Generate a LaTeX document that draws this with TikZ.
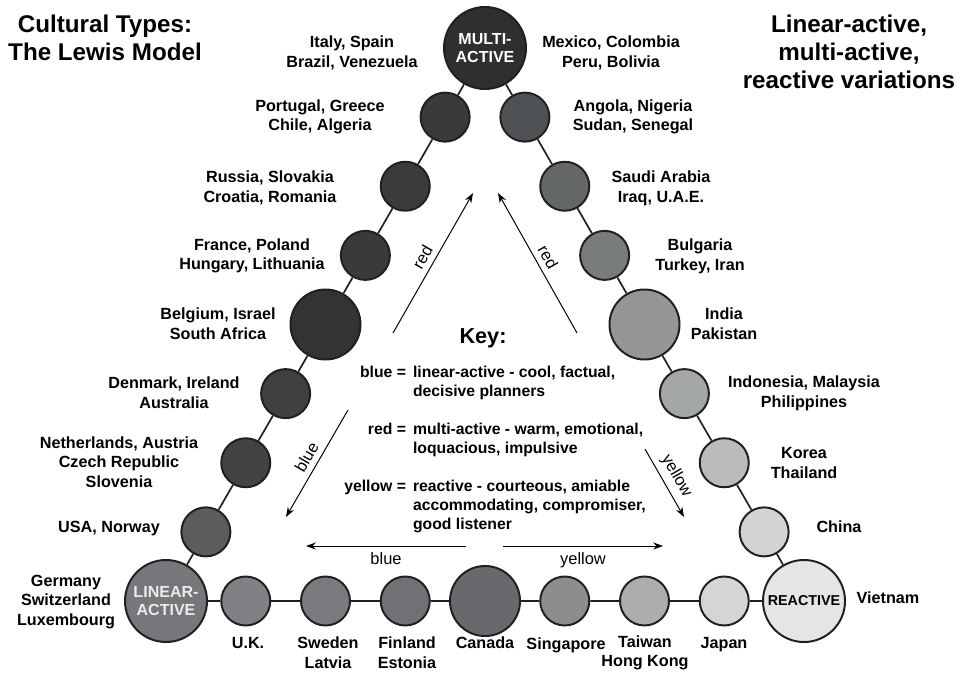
\documentclass[tikz,border=0pt]{standalone}
\usepackage{fontspec}
\setmainfont{Liberation Sans}
\usepackage{tikz}
\usetikzlibrary{shapes,arrows.meta,positioning,calc}

\definecolor{rim}{HTML}{231F20}
\definecolor{cMA}{HTML}{2F2F2F}
\definecolor{cPT}{HTML}{3A3A3A}
\definecolor{cRU}{HTML}{3B3B3B}
\definecolor{cFR}{HTML}{3A3A3A}
\definecolor{cBE}{HTML}{333333}
\definecolor{cDK}{HTML}{3F4042}
\definecolor{cNL}{HTML}{424345}
\definecolor{cUS}{HTML}{5B5C5E}
\definecolor{cLA}{HTML}{76777A}
\definecolor{cUK}{HTML}{808184}
\definecolor{cSE}{HTML}{7A7B7E}
\definecolor{cFI}{HTML}{707174}
\definecolor{cCA}{HTML}{68696C}
\definecolor{cSG}{HTML}{8C8D8F}
\definecolor{cTW}{HTML}{ACADAF}
\definecolor{cJP}{HTML}{D4D5D6}
\definecolor{cRE}{HTML}{E4E5E6}
\definecolor{cCN}{HTML}{D2D3D3}
\definecolor{cKR}{HTML}{BABCBC}
\definecolor{cID}{HTML}{A4A7A7}
\definecolor{cIN}{HTML}{959697}
\definecolor{cBG}{HTML}{797C7D}
\definecolor{cSA}{HTML}{646768}
\definecolor{cAO}{HTML}{4F5254}

\begin{document}
\begin{tikzpicture}[
    x=0.025cm, y=-0.025cm,
    dot/.style={circle, draw=rim, line width=1.4pt, minimum size=1.225cm, inner sep=0pt},
    bigdot/.style={dot, minimum size=1.75cm},
    pole/.style={dot, minimum size=2.05cm, align=center, font=\fontsize{11.4}{12.8}\selectfont\bfseries},
    place/.style={align=center, inner sep=0pt, font=\fontsize{11.5}{14}\selectfont\bfseries},
    heading/.style={align=center, inner sep=0pt, font=\fontsize{17.2}{19.9}\selectfont\bfseries},
    link/.style={draw=rim, line width=1.2pt},
    arrow/.style={-{Stealth[length=7pt, width=5pt]}, line width=0.7pt},
    tag/.style={sloped, inner sep=4pt, font=\fontsize{11.7}{14}\selectfont}
]
    \useasboundingbox (0,0) rectangle (964,674);

    % corners of the triangle
    \node[pole, fill=cMA, text=white] (ma) at (485,48) {MULTI-\\ACTIVE};
    \node[pole, fill=cLA, text=white!92!black] (la) at (166,601) {LINEAR-\\ACTIVE};
    \node[pole, fill=cRE, font=\fontsize{10.2}{12}\selectfont\bfseries] (re) at (804,601) {REACTIVE};

    % linear-active to multi-active
    \node[dot, fill=cUS] (us) at ($(la)!1/8!(ma)$) {};
    \node[dot, fill=cNL] (nl) at ($(la)!2/8!(ma)$) {};
    \node[dot, fill=cDK] (dk) at ($(la)!3/8!(ma)$) {};
    \node[bigdot, fill=cBE] (be) at ($(la)!4/8!(ma)$) {};
    \node[dot, fill=cFR] (fr) at ($(la)!5/8!(ma)$) {};
    \node[dot, fill=cRU] (ru) at ($(la)!6/8!(ma)$) {};
    \node[dot, fill=cPT] (pt) at ($(la)!7/8!(ma)$) {};

    % multi-active to reactive
    \node[dot, fill=cAO] (ao) at ($(ma)!1/8!(re)$) {};
    \node[dot, fill=cSA] (sa) at ($(ma)!2/8!(re)$) {};
    \node[dot, fill=cBG] (bg) at ($(ma)!3/8!(re)$) {};
    \node[bigdot, fill=cIN] (in) at ($(ma)!4/8!(re)$) {};
    \node[dot, fill=cID] (id) at ($(ma)!5/8!(re)$) {};
    \node[dot, fill=cKR] (kr) at ($(ma)!6/8!(re)$) {};
    \node[dot, fill=cCN] (cn) at ($(ma)!7/8!(re)$) {};

    % linear-active to reactive
    \node[dot, fill=cUK] (uk) at ($(la)!1/8!(re)$) {};
    \node[dot, fill=cSE] (se) at ($(la)!2/8!(re)$) {};
    \node[dot, fill=cFI] (fi) at ($(la)!3/8!(re)$) {};
    \node[bigdot, fill=cCA] (ca) at ($(la)!4/8!(re)$) {};
    \node[dot, fill=cSG] (sg) at ($(la)!5/8!(re)$) {};
    \node[dot, fill=cTW] (tw) at ($(la)!6/8!(re)$) {};
    \node[dot, fill=cJP] (jp) at ($(la)!7/8!(re)$) {};

    \draw[link] (la) -- (us) -- (nl) -- (dk) -- (be) -- (fr) -- (ru) -- (pt) -- (ma);
    \draw[link] (ma) -- (ao) -- (sa) -- (bg) -- (in) -- (id) -- (kr) -- (cn) -- (re);
    \draw[link] (la) -- (uk) -- (se) -- (fi) -- (ca) -- (sg) -- (tw) -- (jp) -- (re);

    % country names
    \node[place] (italy) at (352,53) {Italy, Spain\\Brazil, Venezuela};
    \node[place] (mexico) at (611,53) {Mexico, Colombia\\Peru, Bolivia};
    \node[place] (portugal) at (320,117) {Portugal, Greece\\Chile, Algeria};
    \node[place] (angola) at (633,117) {Angola, Nigeria\\Sudan, Senegal};
    \node[place] (russia) at (270,188) {Russia, Slovakia\\Croatia, Romania};
    \node[place] (saudi) at (661,188) {Saudi Arabia\\Iraq, U.A.E.};
    \node[place] (france) at (252,256) {France, Poland\\Hungary, Lithuania};
    \node[place] (bulgaria) at (700,256) {Bulgaria\\Turkey, Iran};
    \node[place] (belgium) at (218,324) {Belgium, Israel\\South Africa};
    \node[place] (india) at (724,324) {India\\Pakistan};
    \node[place] (denmark) at (174,393) {Denmark, Ireland\\Australia};
    \node[place] (indonesia) at (804,393) {Indonesia, Malaysia\\Philippines};
    \node[place] (netherlands) at (119,462) {Netherlands, Austria\\Czech Republic\\Slovenia};
    \node[place] (korea) at (804,463) {Korea\\Thailand};
    \node[place] (usa) at (109,529) {USA, Norway};
    \node[place] (china) at (839,527) {China};
    \node[place] (germany) at (66,602) {Germany\\Switzerland\\Luxembourg};
    \node[place] (vietnam) at (888,598) {Vietnam};
    \node[place] (britain) at (248,643) {U.K.};
    \node[place] (sweden) at (328,653) {Sweden\\Latvia};
    \node[place] (finland) at (407,653) {Finland\\Estonia};
    \node[place] (canada) at (485,643) {Canada};
    \node[place] (singapore) at (566,645) {Singapore};
    \node[place] (taiwan) at (645,653) {Taiwan\\Hong Kong};
    \node[place] (japan) at (724,645) {Japan};

    % titles
    \node[heading] (title) at (105,38) {Cultural Types:\\The Lewis Model};
    \node[heading] (subtitle) at (849,52) {Linear-active,\\multi-active,\\reactive variations};

    % key
    \node[anchor=base, inner sep=0pt, font=\fontsize{15.4}{18}\selectfont\bfseries] (key) at (483,344) {Key:};
    \node[anchor=base west, inner sep=0pt, font=\fontsize{11.2}{13.5}\selectfont\bfseries] (legend) at (344,377.5)
        {\begin{tabular}[t]{@{}r@{\hspace{5pt}}l@{}}
         blue = & linear-active - cool, factual,\\
                & decisive planners\\[13.5pt]
         red = & multi-active - warm, emotional,\\
               & loquacious, impulsive\\[13.5pt]
         yellow = & reactive - courteous, amiable\\
                  & accommodating, compromiser,\\
                  & good listener
         \end{tabular}};

    % direction arrows
    \coordinate (redla) at (393,333);
    \coordinate (redlb) at (473,193);
    \coordinate (redra) at (577,333);
    \coordinate (redrb) at (498,193);
    \coordinate (bluea) at (348,410);
    \coordinate (blueb) at (286,517);
    \coordinate (yella) at (645,449);
    \coordinate (yellb) at (684,517);
    \coordinate (bluec) at (466,546);
    \coordinate (blued) at (306,546);
    \coordinate (yellc) at (503,546);
    \coordinate (yelld) at (663,546);

    \draw[arrow] (redla) -- node[tag, above] {red} (redlb);
    \draw[arrow] (redra) -- node[tag, above] {red} (redrb);
    \draw[arrow] (bluea) -- node[tag, above] {blue} (blueb);
    \draw[arrow] (yella) -- node[tag, above] {yellow} (yellb);
    \draw[arrow] (bluec) -- node[tag, below] {blue} (blued);
    \draw[arrow] (yellc) -- node[tag, below] {yellow} (yelld);
\end{tikzpicture}
\end{document}
